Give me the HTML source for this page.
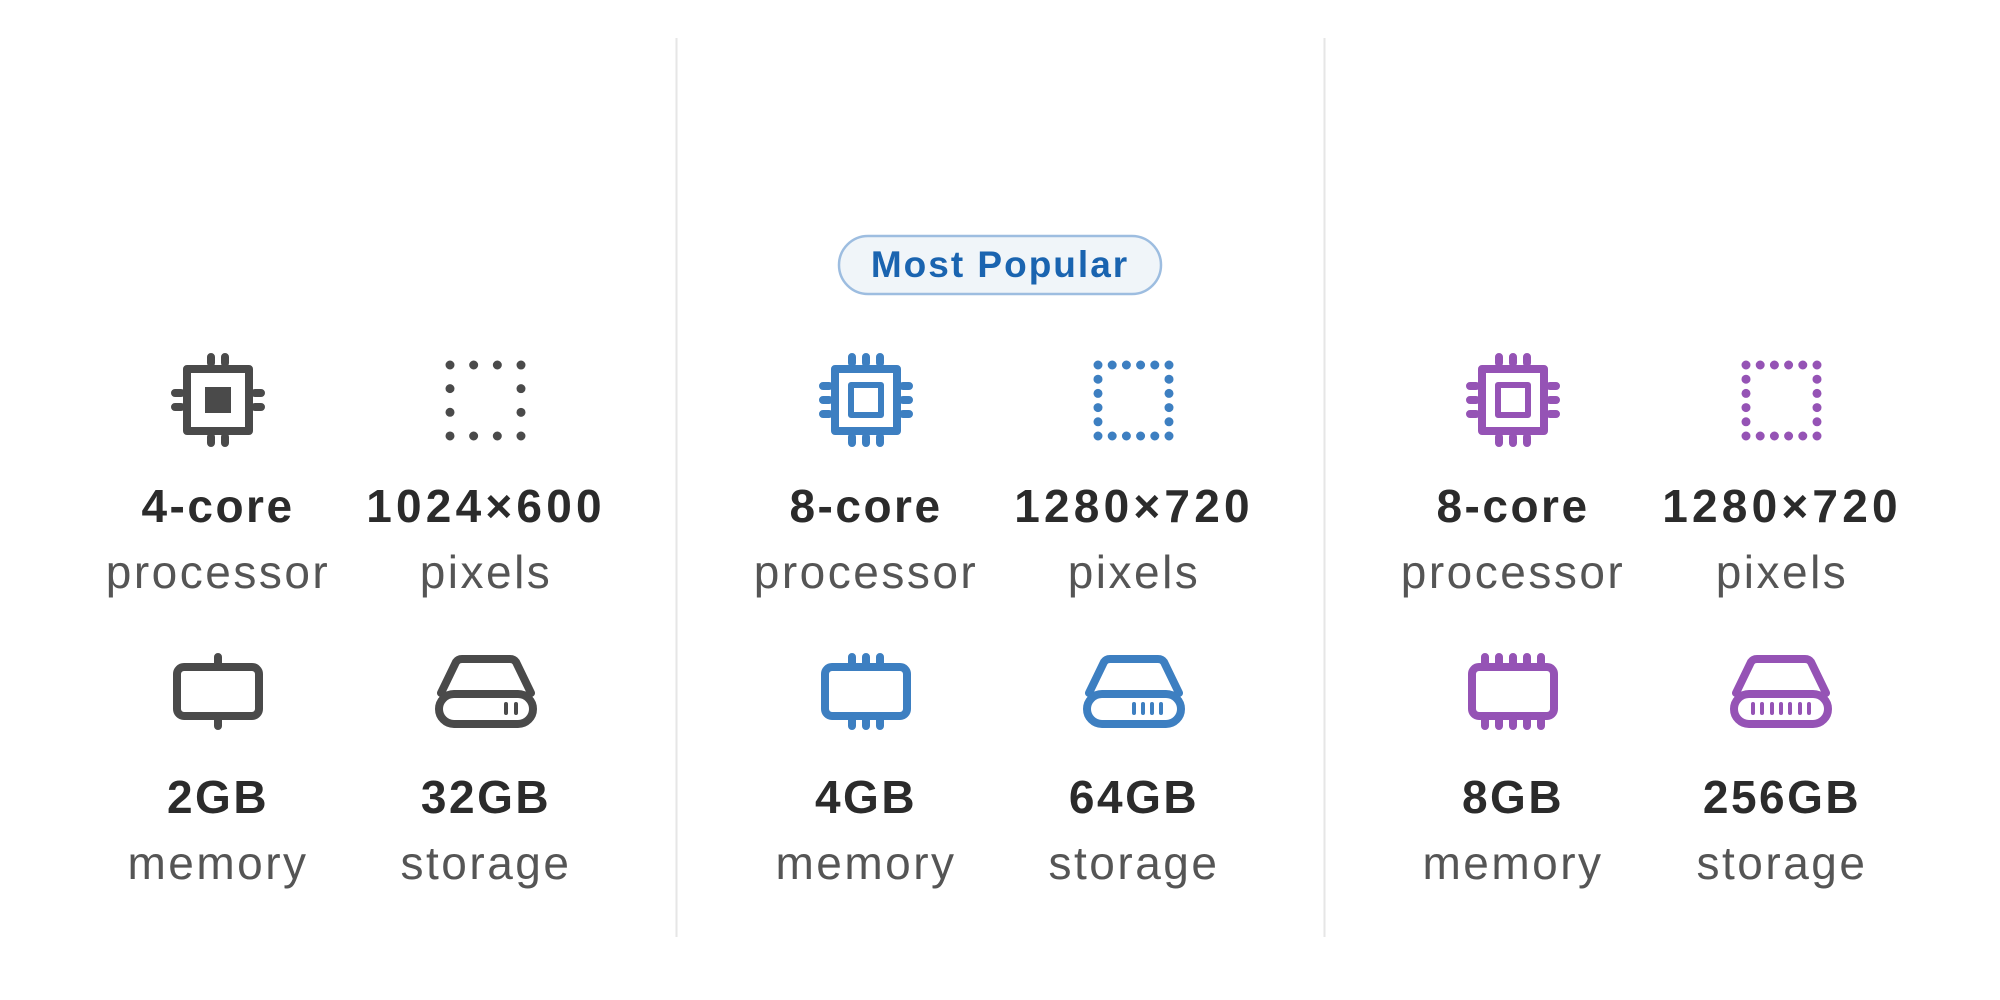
<!DOCTYPE html>
<html><head><meta charset="utf-8"><style>
html,body{margin:0;padding:0;background:#fff;}
svg{display:block}
.b{font-family:"Liberation Sans",sans-serif;font-weight:bold;font-size:46px;fill:#2b2b2b;text-anchor:middle;letter-spacing:2.5px}
.d{letter-spacing:4.2px}
.r{font-family:"Liberation Sans",sans-serif;font-size:46px;fill:#555;text-anchor:middle;letter-spacing:2.5px}
</style></head><body>
<svg width="2000" height="1000" viewBox="0 0 2000 1000" xmlns="http://www.w3.org/2000/svg">
<rect width="2000" height="1000" fill="#fff"/>
<line x1="676.5" y1="38" x2="676.5" y2="937" stroke="#e6e6e6" stroke-width="2"/>
<line x1="1324.5" y1="38" x2="1324.5" y2="937" stroke="#e6e6e6" stroke-width="2"/>

<!-- badge -->
<rect x="839" y="236" width="322" height="58" rx="29" fill="#f0f5f9" stroke="#9dbde0" stroke-width="2.5"/>
<text x="1000" y="277" font-family="Liberation Sans,sans-serif" font-weight="bold" font-size="37" fill="#1a64b0" text-anchor="middle" letter-spacing="2">Most Popular</text>

<!-- Column 1 (gray) -->
<g stroke="#4a4a4a" fill="none" stroke-width="8" stroke-linecap="round" stroke-linejoin="round">
  <rect x="187" y="369" width="62" height="62"/>
  <path d="M211 357v6M225 357v6M211 437v6M225 437v6M175 393h6M175 407h6M255 393h6M255 407h6"/>
  <rect x="450" y="365" width="71" height="71" stroke-width="9" stroke-dasharray="0 23.67"/>
  <rect x="177" y="667" width="82" height="49" rx="7"/>
  <path d="M218 657v8M218 718v8"/>
  <path d="M441 693 L456 662 Q458 659 462 659 H510 Q514 659 516 662 L531 693"/>
  <rect x="439" y="694" width="94" height="30" rx="15"/>
  <path d="M506 704v9M516 704v9" stroke-width="4"/>
</g>
<rect x="205" y="387" width="26" height="26" fill="#4a4a4a"/>
<text class="b" x="218" y="522">4-core</text>
<text class="r" x="218" y="588">processor</text>
<text class="b d" x="486" y="522">1024×600</text>
<text class="r" x="486" y="588">pixels</text>
<text class="b" x="218" y="813">2GB</text>
<text class="r" x="218" y="879">memory</text>
<text class="b" x="486" y="813">32GB</text>
<text class="r" x="486" y="879">storage</text>

<!-- Column 2 (blue) -->
<g stroke="#3d7fc1" fill="none" stroke-width="8" stroke-linecap="round" stroke-linejoin="round">
  <rect x="835" y="369" width="62" height="62"/>
  <rect x="851" y="385" width="30" height="30" stroke-width="6"/>
  <path d="M852 357v6M866 357v6M880 357v6M852 437v6M866 437v6M880 437v6M823 386h6M823 400h6M823 414h6M903 386h6M903 400h6M903 414h6"/>
  <rect x="1098" y="365" width="71" height="71" stroke-width="9" stroke-dasharray="0 14.2"/>
  <rect x="825" y="667" width="82" height="49" rx="7"/>
  <path d="M852 657v8M866 657v8M880 657v8M852 718v8M866 718v8M880 718v8"/>
  <path d="M1089 693 L1104 662 Q1106 659 1110 659 H1158 Q1162 659 1164 662 L1179 693"/>
  <rect x="1087" y="694" width="94" height="30" rx="15"/>
  <path d="M1134 704v9M1143 704v9M1152 704v9M1161 704v9" stroke-width="4"/>
</g>
<text class="b" x="866" y="522">8-core</text>
<text class="r" x="866" y="588">processor</text>
<text class="b d" x="1134" y="522">1280×720</text>
<text class="r" x="1134" y="588">pixels</text>
<text class="b" x="866" y="813">4GB</text>
<text class="r" x="866" y="879">memory</text>
<text class="b" x="1134" y="813">64GB</text>
<text class="r" x="1134" y="879">storage</text>

<!-- Column 3 (purple) -->
<g stroke="#9553b5" fill="none" stroke-width="8" stroke-linecap="round" stroke-linejoin="round">
  <rect x="1482" y="369" width="62" height="62"/>
  <rect x="1498" y="385" width="30" height="30" stroke-width="6"/>
  <path d="M1499 357v6M1513 357v6M1527 357v6M1499 437v6M1513 437v6M1527 437v6M1470 386h6M1470 400h6M1470 414h6M1550 386h6M1550 400h6M1550 414h6"/>
  <rect x="1746" y="365" width="71" height="71" stroke-width="9" stroke-dasharray="0 14.2"/>
  <rect x="1472" y="667" width="82" height="49" rx="7"/>
  <path d="M1485 657v8M1499 657v8M1513 657v8M1527 657v8M1541 657v8M1485 718v8M1499 718v8M1513 718v8M1527 718v8M1541 718v8"/>
  <path d="M1736 693 L1751 662 Q1753 659 1757 659 H1805 Q1809 659 1811 662 L1826 693"/>
  <rect x="1734" y="694" width="94" height="30" rx="15"/>
  <path d="M1753 704v9M1762 704v9M1772 704v9M1781 704v9M1790 704v9M1800 704v9M1809 704v9" stroke-width="4"/>
</g>
<text class="b" x="1513" y="522">8-core</text>
<text class="r" x="1513" y="588">processor</text>
<text class="b d" x="1782" y="522">1280×720</text>
<text class="r" x="1782" y="588">pixels</text>
<text class="b" x="1513" y="813">8GB</text>
<text class="r" x="1513" y="879">memory</text>
<text class="b" x="1782" y="813">256GB</text>
<text class="r" x="1782" y="879">storage</text>
</svg>
</body></html>
